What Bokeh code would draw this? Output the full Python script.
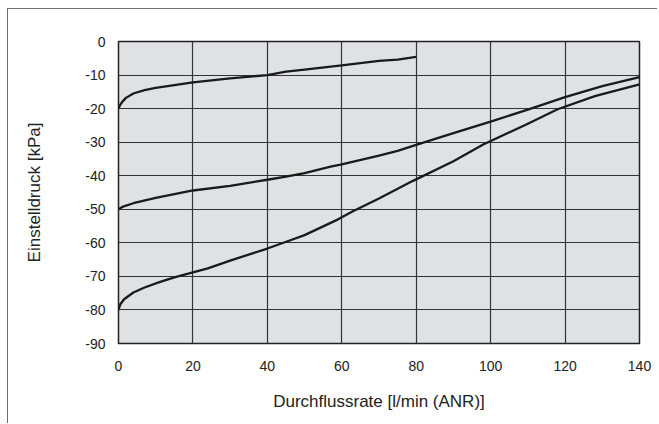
from bokeh.plotting import figure
from bokeh.models import FixedTicker, Range1d
from bokeh.embed import file_html
from bokeh.resources import INLINE

# Data
x_ticks = [0, 20, 40, 60, 80, 100, 120, 140]
y_ticks = [0, -10, -20, -30, -40, -50, -60, -70, -80, -90]
y_tick_labels = ["0", "-10", "-20", "-30", "-40", "-50", "-60", "-70", "-80", "-90"]

flow_a = [0, 0.5, 1, 2, 4, 7, 10, 15, 20, 30, 40, 45, 50, 60, 70, 75, 80]
pres_a = [-20, -18.8, -18, -16.8, -15.5, -14.5, -13.8, -13, -12.2, -11, -10, -9, -8.4, -7.1, -5.8, -5.4, -4.6]

flow_b = [0, 1, 4, 10, 20, 30, 40, 45, 50, 57, 60, 70, 75, 80, 90, 100, 110, 120, 130, 140]
pres_b = [-50, -49.3, -48.2, -46.6, -44.4, -43, -41.2, -40.3, -39.2, -37.3, -36.6, -34, -32.6, -30.8, -27.3, -23.9, -20.3, -16.6, -13.3, -10.6]

flow_c = [0, 0.5, 1.5, 4, 7, 11, 15, 20, 24, 30, 40, 46, 50, 59, 63, 70, 79, 90, 98, 110, 118, 128, 140]
pres_c = [-80, -78.3, -76.8, -74.8, -73.3, -71.7, -70.3, -68.8, -67.6, -65.3, -61.7, -59.3, -57.7, -53, -50.6, -46.8, -41.6, -35.7, -30.7, -24.5, -20.2, -16.3, -12.8]

FONT = "Liberation Sans"

p = figure(width=650, height=415, output_backend="svg", toolbar_location=None,
           x_range=Range1d(0, 140), y_range=Range1d(-90, 0),
           min_border_left=110, min_border_right=19, min_border_top=32, min_border_bottom=81)
p.styles = {"margin-left": "7px", "margin-top": "8px",
            "border-left": "1.5px solid #707070", "border-top": "1.5px solid #707070"}

p.background_fill_color = "#e0e1e3"
p.border_fill_color = "white"
p.outline_line_color = "#222222"
p.outline_line_width = 1.5

for ax in (p.xaxis[0], p.yaxis[0]):
    ax.axis_line_color = None
    ax.major_tick_line_color = None
    ax.minor_tick_line_color = None
    ax.major_label_text_font = FONT
    ax.major_label_text_font_size = "14px"
    ax.major_label_text_color = "#222222"
    ax.axis_label_text_font = FONT
    ax.axis_label_text_font_size = "17px"
    ax.axis_label_text_font_style = "normal"
    ax.axis_label_text_color = "#222222"

p.xaxis.ticker = FixedTicker(ticks=x_ticks)
p.yaxis.ticker = FixedTicker(ticks=y_ticks)
p.yaxis.major_label_overrides = {t: s for t, s in zip(y_ticks, y_tick_labels)}
p.xaxis.major_label_standoff = 11
p.yaxis.major_label_standoff = 7
p.xaxis.axis_label = "Durchflussrate [l/min (ANR)]"
p.yaxis.axis_label = "Einstelldruck [kPa]"
p.xaxis.axis_label_standoff = 18
p.yaxis.axis_label_standoff = 38

p.xgrid.ticker = FixedTicker(ticks=x_ticks)
p.ygrid.ticker = FixedTicker(ticks=y_ticks)
for g in (p.xgrid[0], p.ygrid[0]):
    g.grid_line_color = "#333333"
    g.grid_line_width = 1.2
    g.grid_line_alpha = 1.0

for fx, fy in ((flow_a, pres_a), (flow_b, pres_b), (flow_c, pres_c)):
    p.line(fx, fy, line_color="#1a1a1a", line_width=2.3, line_join="round")

open("out.html", "w").write(file_html(p, INLINE))
